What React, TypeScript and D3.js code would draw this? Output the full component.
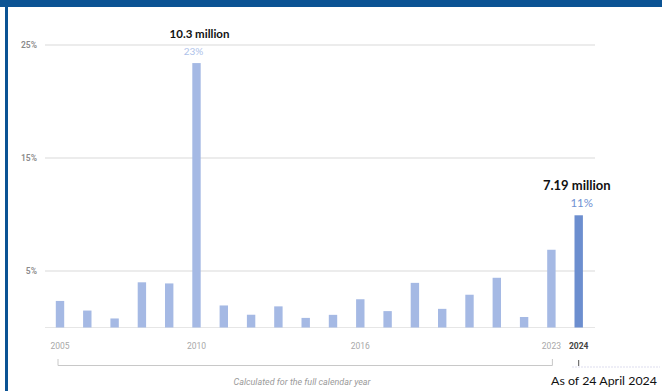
import React from "react";
import * as d3 from "d3";

const years = ["2005","2006","2007","2008","2009","2010","2011","2012","2013","2014","2015","2016","2017","2018","2019","2020","2021","2022","2023","2024"];
const values = [2.35,1.5,0.8,4.0,3.9,23.4,1.95,1.13,1.87,0.85,1.12,2.5,1.45,3.95,1.65,2.9,4.4,0.93,6.88,9.93];
const yTicks = [5, 15, 25];
const xLabels = ["2005","2010","2016","2023"];
const annotations = [
  { year: "2010", big: "10.3 million", small: "23%" },
  { year: "2024", big: "7.19 million", small: "11%" },
];

const W = 662, H = 391;
const BLUE = "#0b5394";

export default function App() {
  const y = d3.scaleLinear().domain([0, 25]).range([327.5, 45]);
  const x = d3.scalePoint<string>().domain(years).range([46.35, 592.35]).padding(0.5);
  const bw = 8.4;
  const x0 = x("2005")!, x23 = x("2023")!, x24 = x("2024")!;
  return (
    <svg width={W} height={H} style={{ position: "absolute", left: 0, top: 0, background: "#fff" }}>
      <rect x={0} y={0} width={W} height={H} fill="#fff" />
      <rect x={0} y={0} width={W} height={7} fill={BLUE} />
      <rect x={5} y={0} width={3} height={H} fill={BLUE} />
      {yTicks.map(t => (
        <g key={t}>
          <line x1={45} x2={595} y1={y(t)} y2={y(t)} stroke="#e6e6e6" strokeWidth={1.5} />
          <text x={37} y={y(t)} dy="0.35em" textAnchor="end" fontFamily="Roboto" fontSize={8.5} fontWeight={600} fill="#8a8a8a">{t}%</text>
        </g>
      ))}
      <line x1={45} x2={595} y1={y(0)} y2={y(0)} stroke="#e6e6e6" strokeWidth={1.2} />
      {years.map((yr, i) => (
        <rect key={yr} x={x(yr)! - bw / 2} y={y(values[i])} width={bw} height={y(0) - y(values[i])}
          fill={yr === "2024" ? "#6c8ecf" : "#a5b9e4"} />
      ))}
      {annotations.map(a => {
        const i = years.indexOf(a.year);
        const cx = x(a.year)!;
        const last = a.year === "2024";
        return (
          <g key={a.year}>
            <text x={cx + (last ? -2 : 3)} y={last ? 190 : 38} textAnchor="middle" fontFamily="Lato" fontWeight={700}
              fontSize={last ? 13 : 11.5} fill="#111">{a.big}</text>
            <text x={cx + (last ? 3 : -3)} y={last ? 206.5 : 55} textAnchor="middle" fontFamily="Lato"
              fontSize={last ? 11.5 : 10} fill={last ? "#6f91d2" : "#aec2ea"}>{a.small}</text>
          </g>
        );
      })}
      {xLabels.map(l => (
        <text key={l} x={x(l)!} y={349} textAnchor="middle" fontFamily="Roboto" fontSize={8.5} fill="#a8a8a8">{l}</text>
      ))}
      <text x={x24} y={349} textAnchor="middle" fontFamily="Roboto" fontSize={8.5} fontWeight={700} fill="#444">2024</text>
      <path d={`M${x0 - 2},359V365.5H${x23 + 1}V359`} fill="none" stroke="#c8c8c8" strokeWidth={1} />
      <line x1={x24} x2={x24} y1={360} y2={366} stroke="#555" strokeWidth={1} />
      <line x1={572} x2={660} y1={367} y2={367} stroke="#dde" strokeWidth={1} strokeDasharray="2,1" />
      <text x={302} y={385} textAnchor="middle" fontFamily="Roboto" fontStyle="italic" fontSize={8.5} fill="#9a9a9a"
        textLength={137} lengthAdjust="spacingAndGlyphs">Calculated for the full calendar year</text>
      <text x={551} y={385} fontFamily="Lato" fontSize={12} fill="#111" textLength={106} lengthAdjust="spacingAndGlyphs">As of 24 April 2024</text>
    </svg>
  );
}
